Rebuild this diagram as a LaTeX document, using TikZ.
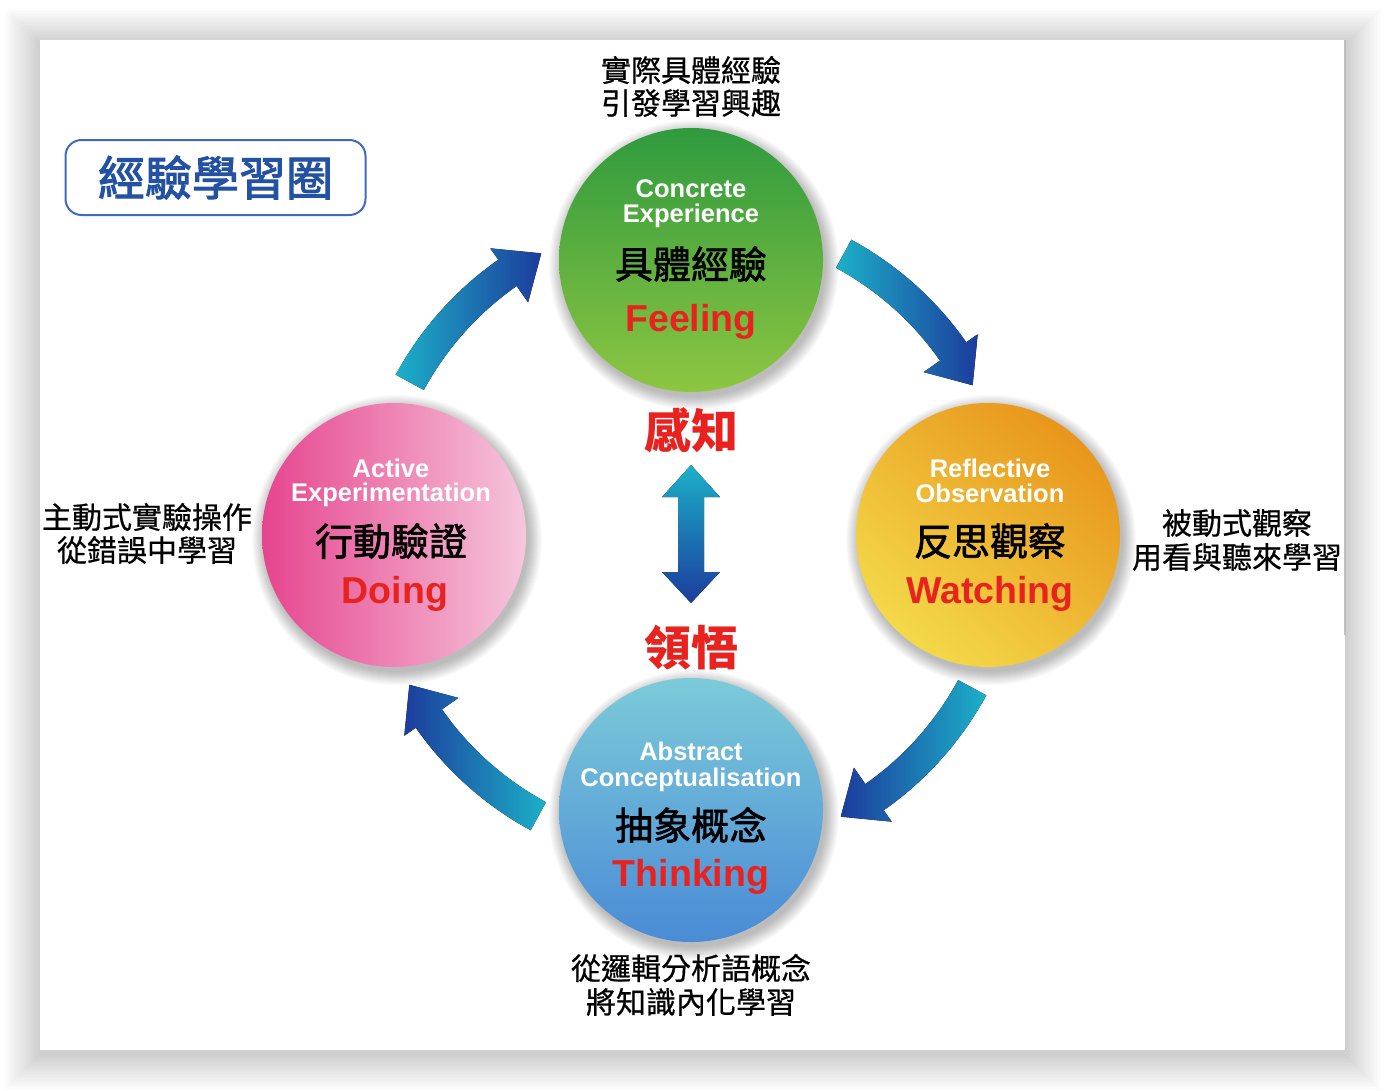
\documentclass[tikz,border=0pt]{standalone}
\usepackage{fontspec}
\setmainfont{Liberation Sans}
\newfontfamily\cjk{Noto Sans CJK TC}
\newfontfamily\cjkmid[FakeBold=1.6]{Noto Sans CJK TC}
\newfontfamily\cjkside[FakeBold=0.6]{Noto Sans CJK TC}
\newfontfamily\cjktitle[FakeBold=2.2]{Noto Sans CJK TC}
\definecolor{kred}{HTML}{E8231F}
\definecolor{tblue}{HTML}{2352A4}
\definecolor{tborder}{HTML}{3F6BBF}
\definecolor{greenT}{HTML}{2F9A3E}
\definecolor{greenB}{HTML}{8DC641}
\definecolor{orangeD}{HTML}{E8961C}
\definecolor{yellowL}{HTML}{F4D94A}
\definecolor{pinkD}{HTML}{E6458E}
\definecolor{pinkL}{HTML}{F6C6DC}
\definecolor{blueT}{HTML}{7CCBD9}
\definecolor{blueB}{HTML}{4A8BD6}
\definecolor{acyan}{HTML}{1CB0C8}
\definecolor{ablue}{HTML}{1C3C9C}
\begin{document}
\begin{tikzpicture}[x=1pt,y=-1pt,
  ball/.style={circle, minimum size=264pt, inner sep=0pt},
  en/.style={anchor=base, inner sep=0pt, text=white, font=\fontsize{25.5}{27}\selectfont\bfseries},
  zh/.style={inner sep=0pt, font=\cjkmid\fontsize{38}{40}\selectfont},
  big/.style={anchor=base, inner sep=0pt, text=kred, font=\fontsize{37.5}{40}\selectfont\bfseries},
  side/.style={inner sep=0pt, font=\cjkside\fontsize{30}{32}\selectfont},
  redzh/.style={inner sep=0pt, text=kred, font=\cjk\fontsize{47}{50}\selectfont\bfseries},
  arrowA/.style={left color=acyan, right color=ablue},
  arrowB/.style={left color=ablue, right color=acyan}
]
\useasboundingbox (0,0) rectangle (1386,1090);
\fill[white] (0,0) rectangle (1386,1090);
% card shadow
\foreach \i in {1,...,24}{
  \fill[black, opacity=0.006] ({40-1.5*\i},{44-1.5*\i}) rectangle ({1345+1.5*\i},{1054+1.5*\i});
}
\fill[white] (40,40) rectangle (1345,1050);
\draw[black!25, line width=1.5pt] (1345,40) -- (1345,635);

% title
\node[draw=tborder, line width=2pt, rounded corners=16pt, minimum width=300pt, minimum height=75pt,
  text=tblue, font=\cjktitle\fontsize{47}{50}\selectfont] (title) at (215.5,177.5) {經驗學習圈};

% curved arrows (tail angle / shading)
\begin{scope}[shift={(691,535)}, yscale=-1]
  \foreach \a/\s in {61.5/arrowA, -28.5/arrowB, -118.5/arrowB, 151.5/arrowA}{
  \fill[\s] (\a:336) arc[start angle=\a, end angle=\a-26.5, radius=336]
     -- ({\a-26.5}:350) -- ({\a-33.5}:319) -- ({\a-26.5}:284) -- ({\a-26.5}:304)
     arc[start angle=\a-26.5, end angle=\a, radius=304] -- cycle;
  }
\end{scope}

% central double arrow
\fill[top color=acyan, bottom color=ablue] (691,465) -- (720,497) -- (704,497) -- (704,572) -- (720,572) -- (691,603) -- (662,572) -- (678,572) -- (678,497) -- (662,497) -- cycle;

% circle shadows
\foreach \cx/\cy in {691/260, 988/535, 394/535, 691/810}{
  \foreach \i in {1,...,14}{
    \fill[black, opacity=0.018] ({\cx+3},{\cy+5}) circle ({131+\i});
  }
}

% circles
\node[ball, top color=greenT, bottom color=greenB] (ce) at (691,260) {};
\node[ball, top color=orangeD, bottom color=yellowL, shading angle=-40] (ro) at (988,535) {};
\node[ball, left color=pinkD, right color=pinkL] (ae) at (394,535) {};
\node[ball, top color=blueT, bottom color=blueB] (ac) at (691,810) {};

% circle texts
\node[en] (ce1) at (691,197) {Concrete};
\node[en] (ce2) at (691,222) {Experience};
\node[zh] (ce3) at (691,264) {具體經驗};
\node[big] (ce4) at (691,331) {Feeling};

\node[en] (ro1) at (990,477) {Reflective};
\node[en] (ro2) at (990,502) {Observation};
\node[zh] (ro3) at (990,541) {反思觀察};
\node[big] (ro4) at (990,603) {Watching};

\node[en] (ae1) at (391,477) {Active};
\node[en] (ae2) at (391,501) {Experimentation};
\node[zh] (ae3) at (391,541) {行動驗證};
\node[big] (ae4) at (395,603) {Doing};

\node[en] (ac1) at (691,760) {Abstract};
\node[en] (ac2) at (691,786) {Conceptualisation};
\node[zh] (ac3) at (691,825) {抽象概念};
\node[big] (ac4) at (691,886) {Thinking};

% center labels
\node[redzh] (perc) at (691,430) {感知};
\node[redzh] (comp) at (691,648) {領悟};

% side texts
\node[side] (s1) at (691,70) {實際具體經驗};
\node[side] (s2) at (691,103) {引發學習興趣};
\node[side] (s3) at (147,517) {主動式實驗操作};
\node[side] (s4) at (147,550) {從錯誤中學習};
\node[side] (s5) at (1237,523) {被動式觀察};
\node[side] (s6) at (1237,557) {用看與聽來學習};
\node[side] (s7) at (691,968) {從邏輯分析語概念};
\node[side] (s8) at (691,1002) {將知識內化學習};
\end{tikzpicture}
\end{document}
